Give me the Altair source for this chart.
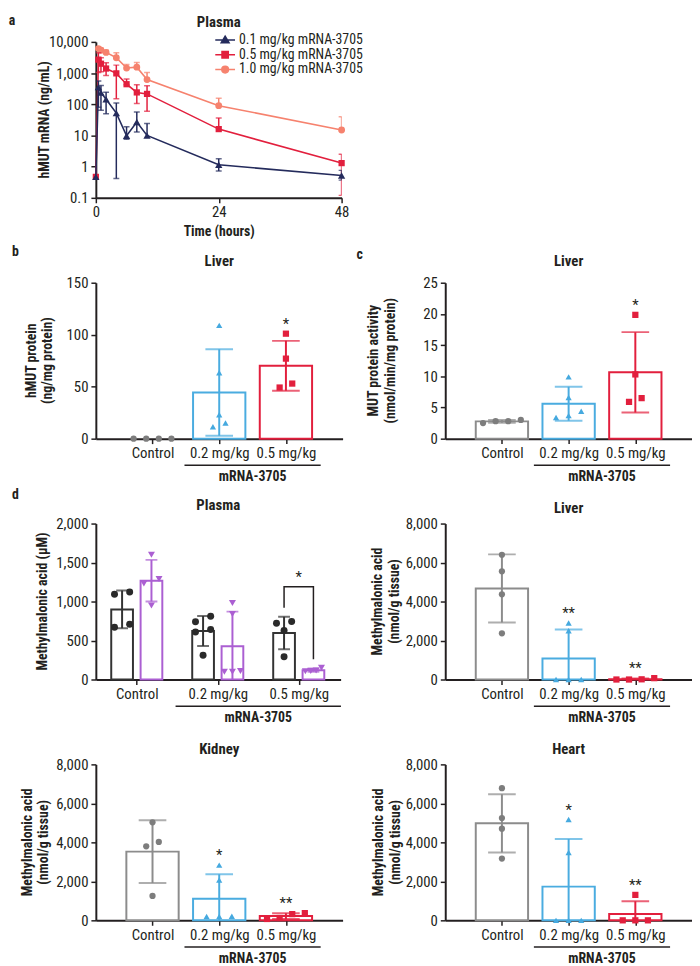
import json
import altair as alt
import pandas as pd

FONT = "Liberation Sans Narrow, Arial Narrow, Roboto Condensed, Roboto, sans-serif"
INK = "#231f20"
FS = 14
LFS = 15

# ---------------- Panel a: plasma hMUT mRNA (mean, lower / upper error limit) ----------------
a_series = ["0.1 mg/kg mRNA-3705", "0.5 mg/kg mRNA-3705", "1.0 mg/kg mRNA-3705"]
a_colors = ["#242b5c", "#e21f3d", "#f6826e"]
a_shapes = ["triangle-up", "square", "circle"]

a_t_01 = [0, 0.5, 1, 2, 4, 6, 8, 10, 24, 48]
a_m_01 = [0.47, 355, 235, 145, 52, 9.8, 27, 10, 1.15, 0.52]
a_lo_01 = [0.47, 80, 64, 50, 0.42, 7.5, 13, 10, 0.72, 0.37]
a_hi_01 = [0.47, 560, 400, 243, 109, 19, 57, 24, 1.8, 0.76]

a_t_05 = [0, 0.5, 1, 2, 4, 6, 8, 10, 24, 48]
a_m_05 = [0.47, 2700, 2000, 1400, 980, 440, 240, 215, 16, 1.3]
a_lo_05 = [0.47, 1050, 1100, 830, 150, 420, 105, 60, 16, 0.12]
a_hi_05 = [0.47, 4500, 3100, 2150, 1800, 650, 420, 390, 36, 2.5]

a_t_10 = [0.5, 1, 2, 4, 6, 8, 10, 24, 48]
a_m_10 = [6100, 5400, 4600, 3100, 1450, 1550, 620, 90, 15]
a_lo_10 = [6100, 5400, 4600, 3100, 1450, 1550, 620, 90, 15]
a_hi_10 = [6900, 6300, 5400, 4500, 1900, 2200, 1050, 155, 40]

# ---------------- Bar panels: individual animals ----------------
groups = ["Control", "0.2 mg/kg", "0.5 mg/kg"]
group_line = ["#8c8c8c", "#4aace0", "#e21f3d"]
group_pt = ["#7d7d7d", "#45a9df", "#e21f3d"]
group_shape = ["circle", "triangle-up", "square"]

# b: liver hMUT protein (ng/mg protein)
b_control = [0, 0, 0, 0]
b_02 = [109, 63.4, 23, 11.4, 15.1]
b_05 = [101, 77, 49.2, 53]
b_stars = ["", "", "*"]

# c: liver MUT activity (nmol/min/mg protein)
c_control = [2.5, 3.0, 2.8, 2.8]
c_02 = [9.9, 6.6, 3.4, 4.4, 3.7]
c_05 = [19.85, 10.3, 5.9, 6.5]
c_stars = ["", "", "*"]

# d: plasma methylmalonic acid (uM)
times_d = ["Baseline", "24 h postdose"]
time_line = ["#333333", "#ab5fd2"]
time_pt = ["#2a2a2a", "#ab5fd2"]
time_shape = ["circle", "triangle-down"]
p_base_control = [1093, 1123, 671, 709]
p_base_02 = [810, 740, 640, 610, 310]
p_base_05 = [721, 743, 629, 291]
p_post_control = [1600, 1290, 1230, 950]
p_post_02 = [980, 840, 110, 100, 100]
p_post_05 = [150, 115, 110, 105]
p_bracket_time = ["Baseline", "Baseline", "24 h postdose", "24 h postdose"]
p_bracket_y = [920, 1190, 1190, 260]

# d: tissue methylmalonic acid (nmol/g tissue)
liver_control = [6400, 5550, 4370, 2370]
liver_02 = [2900, 2500, 0, 0, 0]
liver_05 = [10, 70, 0, 0]
liver_stars = ["", "**", "**"]

kidney_control = [5030, 4020, 3800, 1250]
kidney_02 = [2830, 2070, 200, 210, 200]
kidney_05 = [70, 370, 120, 320]
kidney_stars = ["", "*", "**"]

heart_control = [6780, 5250, 4700, 3170]
heart_02 = [5170, 3480, 0, 0, 0]
heart_05 = [1305, 0, 0, 0]
heart_stars = ["", "*", "**"]

GROUP_LABEL_EXPR = json.dumps(groups) + "[round(datum.value)]"


def swarm(values, ymax, H, thr=7.0, slot=13.3, maxw=45.0):
    """Horizontal dodge (pixels from centre) for points that would overlap."""
    px = [v / ymax * H for v in values]
    order = sorted(range(len(values)), key=lambda i: px[i])
    bins = []
    for i in order:
        if bins and px[i] - px[bins[-1][0]] < thr:
            bins[-1].append(i)
        else:
            bins.append([i])
    offs = [0.0] * len(values)
    for b in bins:
        k = len(b)
        st = slot if k < 2 else min(slot, maxw / (k - 1))
        for j, i in enumerate(b):
            offs[i] = (j - (k - 1) / 2) * st
    return offs


def text_layer(label, x, y, size=FS, weight="bold", align="center", angle=0):
    return alt.Chart(pd.DataFrame({"t": [label]})).mark_text(
        font=FONT, fontSize=size, fontWeight=weight, align=align, baseline="middle",
        color=INK, angle=angle, lineBreak="\n", lineHeight=17,
    ).encode(x=alt.value(x), y=alt.value(y), text="t:N")


def group_x_scale(W, step, first):
    lo = -first / step
    return alt.Scale(domain=[lo, lo + W / step], nice=False, zero=False)


def group_x_axis():
    return alt.Axis(values=[0, 1, 2], labelExpr=GROUP_LABEL_EXPR, title=None,
                    labelAngle=0, labelPadding=2)


def panel_a():
    W, H = 249, 158
    xs = alt.Scale(domain=[0, 48], nice=False, zero=False)
    xa = alt.Axis(values=[0, 24, 48], title="Time (hours)", titlePadding=5, labelPadding=2)
    ys = alt.Scale(type="log", domain=[0.1, 10000], nice=False)
    ya = alt.Axis(values=[0.1, 1, 10, 100, 1000, 10000],
                  labelExpr="datum.value < 1 ? '0.1' : format(datum.value, ',')",
                  title=None, labelPadding=3)
    X = lambda f: alt.X(f"{f}:Q", scale=xs, axis=xa)
    Y = lambda f: alt.Y(f"{f}:Q", scale=ys, axis=ya)
    series = [
        (a_series[0], a_t_01, a_m_01, a_lo_01, a_hi_01, a_colors[0], a_shapes[0], 55),
        (a_series[1], a_t_05, a_m_05, a_lo_05, a_hi_05, a_colors[1], a_shapes[1], 40),
        (a_series[2], a_t_10, a_m_10, a_lo_10, a_hi_10, a_colors[2], a_shapes[2], 48),
    ]
    layers = []
    all_rows = []
    for name, ts, ms, los, his, col, shp, sz in reversed(series):
        d = pd.DataFrame({"series": name, "t": ts, "m": ms, "lo": los, "hi": his})
        all_rows.append(d)
        base = alt.Chart(d)
        layers += [
            base.mark_line(color=col, strokeWidth=1.6).encode(x=X("t"), y=Y("m")),
            base.mark_rule(color=col, strokeWidth=1.5, clip=True).encode(x=X("t"), y=Y("lo"), y2="hi:Q"),
            base.transform_filter("datum.hi > datum.m").mark_tick(
                color=col, size=6, thickness=1.5, orient="horizontal", clip=True).encode(x=X("t"), y=Y("hi")),
            base.transform_filter("datum.lo < datum.m").mark_tick(
                color=col, size=6, thickness=1.5, orient="horizontal", clip=True).encode(x=X("t"), y=Y("lo")),
            base.mark_point(filled=True, color=col, shape=shp, size=sz, opacity=1).encode(x=X("t"), y=Y("m")),
        ]
    paths = [
        "M-2.5,0H2.5M0,-0.95L1,0.75L-1,0.75Z",
        "M-2.5,0H2.5M-0.8,-0.8H0.8V0.8H-0.8Z",
        "M-2.5,0H2.5M0.85,0A0.85,0.85,0,1,1,-0.85,0A0.85,0.85,0,1,1,0.85,0Z",
    ]
    leg = alt.Legend(orient="none", legendX=124, legendY=-9, title=None, labelFont=FONT,
                     labelFontSize=FS, labelColor=INK, symbolSize=64, symbolStrokeWidth=1.5,
                     labelOffset=7, rowPadding=1, padding=0)
    dummy = alt.Chart(pd.concat(all_rows)).transform_filter("false").mark_point(
        filled=True, opacity=1, strokeWidth=1.5).encode(
        x=X("t"), y=Y("m"),
        fill=alt.Fill("series:N", scale=alt.Scale(domain=a_series, range=a_colors), legend=leg),
        stroke=alt.Stroke("series:N", scale=alt.Scale(domain=a_series, range=a_colors), legend=leg),
        shape=alt.Shape("series:N", scale=alt.Scale(domain=a_series, range=paths), legend=leg),
    )
    layers.append(dummy)
    layers.append(text_layer("hMUT mRNA (ng/mL)", -51, H / 2, angle=270))
    layers.append(text_layer("Plasma", W / 2, -20, size=15))
    layers.append(text_layer("a", -85, -21))
    return alt.layer(*layers).properties(width=W, height=H)


def bar_panel(vals, ymax, ystep, ytitle, title_x, title, title_y, stars,
              letter=None, letter_xy=None, W=250, H=158):
    step, first, bar_w = 70.4, 54.6, 53
    rows = []
    for gi, vs in enumerate(vals):
        for v, o in zip(vs, swarm(vs, ymax, H)):
            rows.append({"gi": gi, "value": v, "gx": gi + o / step})
    df = pd.DataFrame(rows)
    xs = group_x_scale(W, step, first)
    xa = group_x_axis()
    X = lambda f: alt.X(f"{f}:Q", scale=xs, axis=xa)
    ys = alt.Scale(domain=[0, ymax], nice=False, zero=True)
    ya = alt.Axis(values=list(range(0, ymax + 1, ystep)), format=",.0f", title=None, labelPadding=3)
    Y = lambda f: alt.Y(f"{f}:Q", scale=ys, axis=ya)
    gdom = [0, 1, 2]
    base = alt.Chart(df)
    agg = base.transform_aggregate(
        m="mean(value)", sd="stdev(value)", groupby=["gi"]
    ).transform_calculate(lo="datum.m - datum.sd", hi="datum.m + datum.sd")
    stroke = alt.Stroke("gi:N", scale=alt.Scale(domain=gdom, range=group_line), legend=None)
    fill = alt.Fill("gi:N", scale=alt.Scale(domain=gdom, range=group_line), legend=None)
    bars = agg.transform_filter("datum.m > 0").mark_bar(
        fill="white", strokeWidth=2, width=bar_w, orient="vertical").encode(
        x=X("gi"), y=Y("m"), stroke=stroke)
    err = agg.transform_filter("datum.sd > 0").mark_rule(strokeWidth=2, clip=True).encode(
        x=X("gi"), y=Y("lo"), y2="hi:Q", stroke=stroke)
    cap_hi = agg.transform_filter("datum.sd > 0").mark_tick(
        size=28, thickness=2, orient="horizontal", clip=True).encode(x=X("gi"), y=Y("hi"), fill=fill)
    cap_lo = agg.transform_filter("datum.sd > 0").mark_tick(
        size=28, thickness=2, orient="horizontal", clip=True).encode(x=X("gi"), y=Y("lo"), fill=fill)
    pts = base.mark_point(filled=True, size=40, opacity=1).encode(
        x=X("gx"), y=Y("value"),
        color=alt.Color("gi:N", scale=alt.Scale(domain=gdom, range=group_pt), legend=None),
        shape=alt.Shape("gi:N", scale=alt.Scale(domain=gdom, range=group_shape), legend=None),
    )
    sdf = pd.DataFrame([{"gi": gi, "s": s, "yv": max(vs)} for gi, (s, vs) in enumerate(zip(stars, vals)) if s])
    star = alt.Chart(sdf).mark_text(font=FONT, fontSize=15, dy=-10, color=INK).encode(
        x=X("gi"), y=Y("yv"), text="s:N")
    bdf = pd.DataFrame({"s": [1], "e": [2], "t": ["mRNA-3705"]})
    brk = alt.Chart(bdf).mark_rule(
        color=INK, strokeWidth=1.5, xOffset=-step / 2, x2Offset=step / 2).encode(
        x=X("s"), x2="e:Q", y=alt.value(H + 27))
    lab = alt.Chart(bdf).transform_calculate(mid="(datum.s + datum.e) / 2").mark_text(
        font=FONT, fontSize=FS, fontWeight="bold", color=INK).encode(
        x=X("mid"), y=alt.value(H + 39), text="t:N")
    layers = [bars, err, cap_hi, cap_lo, pts, star, brk, lab,
              text_layer(ytitle, title_x, H / 2, angle=270),
              text_layer(title, W / 2, title_y, size=15)]
    if letter:
        layers.append(text_layer(letter, letter_xy[0], letter_xy[1], align="left"))
    return alt.layer(*layers).properties(width=W, height=H)


def panel_plasma():
    W, H = 248, 158
    ymax = 2000
    step, first, bar_w, half_gap = 85.5, 38, 22, 15.5
    toff = {times_d[0]: -half_gap / step, times_d[1]: half_gap / step}
    rows = []
    for t, gvals in zip(times_d, [[p_base_control, p_base_02, p_base_05],
                                  [p_post_control, p_post_02, p_post_05]]):
        for gi, vs in enumerate(gvals):
            for v, o in zip(vs, swarm(vs, ymax, H, slot=16, maxw=17)):
                rows.append({"gi": gi, "time": t, "value": v,
                             "tx": gi + toff[t], "px": gi + toff[t] + o / step})
    df = pd.DataFrame(rows)
    xs = group_x_scale(W, step, first)
    xa = group_x_axis()
    X = lambda f: alt.X(f"{f}:Q", scale=xs, axis=xa)
    ys = alt.Scale(domain=[0, ymax], nice=False, zero=True)
    ya = alt.Axis(values=list(range(0, ymax + 1, 500)), format=",.0f", title=None, labelPadding=3)
    Y = lambda f: alt.Y(f"{f}:Q", scale=ys, axis=ya)
    base = alt.Chart(df)
    agg = base.transform_aggregate(
        m="mean(value)", sd="stdev(value)", groupby=["tx", "time"]
    ).transform_calculate(lo="datum.m - datum.sd", hi="datum.m + datum.sd")
    stroke = alt.Stroke("time:N", scale=alt.Scale(domain=times_d, range=time_line), legend=None)
    fill = alt.Fill("time:N", scale=alt.Scale(domain=times_d, range=time_line), legend=None)
    bars = agg.mark_bar(fill="white", strokeWidth=2, width=bar_w, orient="vertical").encode(
        x=X("tx"), y=Y("m"), stroke=stroke)
    err = agg.mark_rule(strokeWidth=2, clip=True).encode(x=X("tx"), y=Y("lo"), y2="hi:Q", stroke=stroke)
    cap_hi = agg.mark_tick(size=12, thickness=2, orient="horizontal", clip=True).encode(
        x=X("tx"), y=Y("hi"), fill=fill)
    cap_lo = agg.mark_tick(size=12, thickness=2, orient="horizontal", clip=True).encode(
        x=X("tx"), y=Y("lo"), fill=fill)
    leg = alt.Legend(orient="none", legendX=53, legendY=-7, direction="horizontal", title=None,
                     labelFont=FONT, labelFontSize=FS, labelColor=INK, symbolSize=45,
                     labelOffset=3, columnPadding=5, padding=0)
    pts = base.mark_point(filled=True, size=50, opacity=1).encode(
        x=X("px"), y=Y("value"),
        color=alt.Color("time:N", scale=alt.Scale(domain=times_d, range=time_pt), legend=leg),
        shape=alt.Shape("time:N", scale=alt.Scale(domain=times_d, range=time_shape), legend=leg),
    )
    bdf = pd.DataFrame({"gi": 2, "time": p_bracket_time, "yv": p_bracket_y,
                        "ord": list(range(len(p_bracket_y)))})
    bdf["tx"] = [2 + toff[t] for t in p_bracket_time]
    brk_line = alt.Chart(bdf).mark_line(color=INK, strokeWidth=1.5).encode(
        x=X("tx"), y=Y("yv"), order="ord:Q")
    star = alt.Chart(pd.DataFrame({"gi": [2], "s": ["*"], "yv": [max(p_bracket_y)]})).mark_text(
        font=FONT, fontSize=15, dy=-10, color=INK).encode(x=X("gi"), y=Y("yv"), text="s:N")
    gdf = pd.DataFrame({"s": [1], "e": [2], "t": ["mRNA-3705"]})
    brk = alt.Chart(gdf).mark_rule(
        color=INK, strokeWidth=1.5, xOffset=-step / 2, x2Offset=step / 2).encode(
        x=X("s"), x2="e:Q", y=alt.value(H + 27))
    lab = alt.Chart(gdf).transform_calculate(mid="(datum.s + datum.e) / 2").mark_text(
        font=FONT, fontSize=FS, fontWeight="bold", color=INK).encode(
        x=X("mid"), y=alt.value(H + 39), text="t:N")
    layers = [bars, err, cap_hi, cap_lo, pts, brk_line, star, brk, lab,
              text_layer("Methylmalonic acid (μM)", -53, H / 2, angle=270),
              text_layer("Plasma", W / 2, -19, size=15), text_layer("d", -85, -29, align="left")]
    return alt.layer(*layers).properties(width=W, height=H)


mma = "Methylmalonic acid\n(nmol/g tissue)"
pa = panel_a()
pb = bar_panel([b_control, b_02, b_05], 150, 50, "hMUT protein\n(ng/mg protein)", -65,
               "Liver", -22, b_stars, "b", (-85, -31))
pc = bar_panel([c_control, c_02, c_05], 25, 5, "MUT protein activity\n(nmol/min/mg protein)", -72,
               "Liver", -22, c_stars, "c", (-90, -28))
pp = panel_plasma()
pl = bar_panel([liver_control, liver_02, liver_05], 8000, 2000, mma, -68, "Liver", -16, liver_stars)
pk = bar_panel([kidney_control, kidney_02, kidney_05], 8000, 2000, mma, -69, "Kidney", -16, kidney_stars)
ph = bar_panel([heart_control, heart_02, heart_05], 8000, 2000, mma, -67, "Heart", -16, heart_stars)
blank = alt.Chart(pd.DataFrame({"t": [""]})).mark_text().encode(
    text="t:N", x=alt.value(0), y=alt.value(0)).properties(width=10, height=10)

chart = alt.concat(
    pa, blank, pb, pc, pp, pl, pk, ph,
    columns=2, spacing={"row": 86, "column": 104}, bounds="flush", align="each",
).resolve_scale(
    color="independent", fill="independent", stroke="independent", shape="independent",
).properties(padding=0).configure_view(stroke=None).configure_axis(
    labelFont=FONT, labelFontSize=LFS, labelColor=INK,
    titleFont=FONT, titleFontSize=FS, titleFontWeight="bold", titleColor=INK,
    domainColor=INK, domainWidth=2, tickColor=INK, tickWidth=1.5, tickSize=5,
    grid=False, labelFlush=False, labelOverlap=False,
).configure_legend(labelFont=FONT)

chart.save("out.html", embed_options={"renderer": "svg", "actions": False})
